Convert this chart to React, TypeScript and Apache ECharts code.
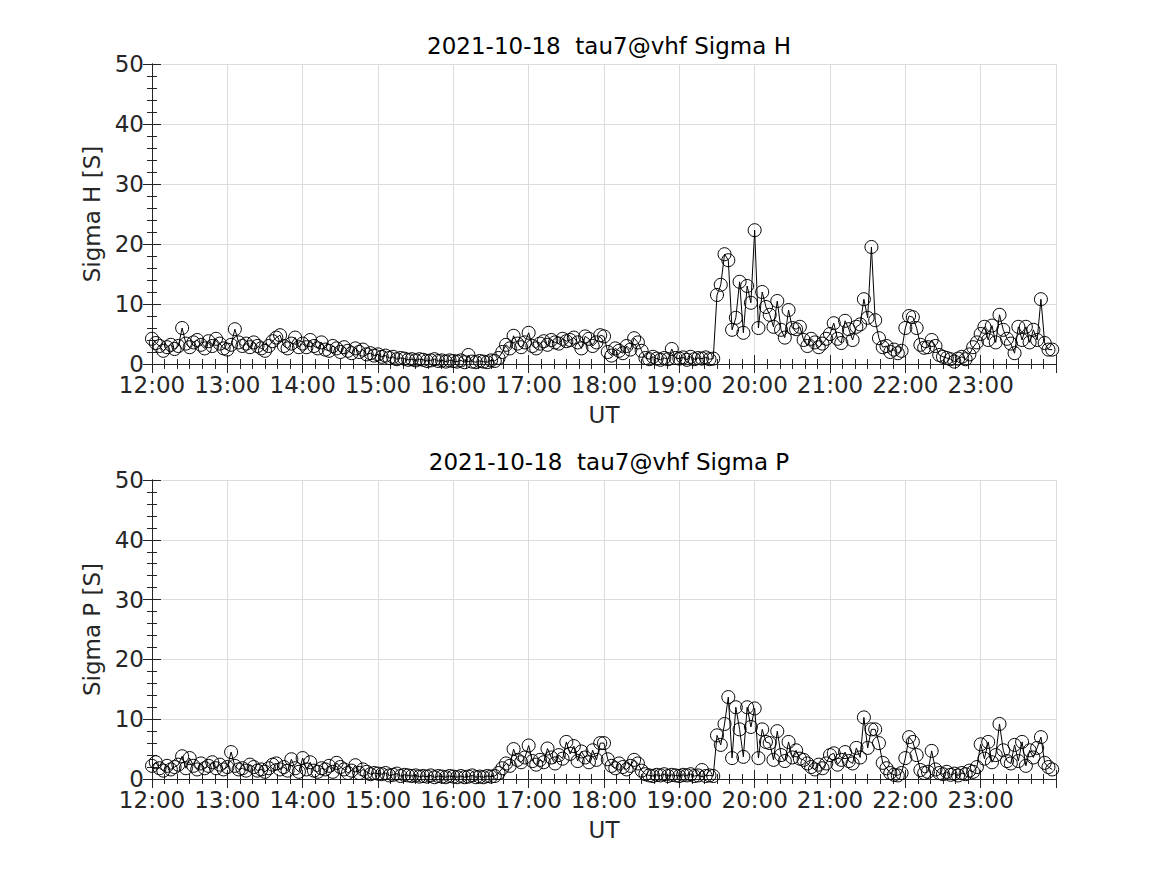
import React, { useEffect, useRef } from "react";
import * as echarts from "echarts";

// Sigma H values, 3-minute samples, one row per hour (12:00 .. 23:57 UT)
const sigmaH12 = [4.2, 3.5, 3.0, 2.2, 2.8, 3.2, 2.5, 3.0, 6.0, 3.4, 2.8, 3.6, 4.0, 3.2, 2.6, 3.8, 3.0, 4.2, 3.4, 2.6];
const sigmaH13 = [2.4, 3.2, 5.8, 3.6, 3.0, 3.4, 2.8, 3.6, 3.0, 2.6, 2.2, 3.0, 3.8, 4.4, 4.8, 3.0, 2.6, 3.4, 4.4, 2.8];
const sigmaH14 = [3.4, 2.8, 4.0, 3.0, 2.6, 3.6, 2.4, 2.2, 3.0, 2.6, 2.0, 2.8, 2.2, 1.8, 2.6, 2.0, 2.4, 1.6, 1.8, 1.4];
const sigmaH15 = [1.6, 1.2, 1.4, 1.0, 1.2, 0.8, 1.0, 0.9, 0.7, 0.8, 0.6, 0.8, 0.7, 0.5, 0.6, 0.8, 0.5, 0.6, 0.4, 0.6];
const sigmaH16 = [0.5, 0.4, 0.6, 0.3, 1.5, 0.4, 0.3, 0.5, 0.4, 0.3, 0.6, 0.5, 1.0, 2.0, 3.2, 2.6, 4.7, 3.4, 2.8, 3.6];
const sigmaH17 = [5.2, 3.0, 2.6, 3.4, 3.8, 3.2, 4.0, 3.6, 3.4, 4.2, 3.8, 4.0, 4.4, 3.6, 2.6, 4.6, 4.2, 3.0, 3.6, 4.8];
const sigmaH18 = [4.6, 2.0, 1.4, 2.6, 2.2, 1.8, 3.0, 2.4, 4.3, 3.6, 2.2, 1.0, 0.8, 1.2, 0.9, 0.7, 1.0, 0.8, 2.5, 1.0];
const sigmaH19 = [0.9, 1.1, 0.7, 1.2, 0.8, 1.0, 0.9, 1.1, 0.8, 0.9, 11.5, 13.2, 18.3, 17.3, 5.7, 7.7, 13.7, 5.2, 13.0, 10.2];
const sigmaH20 = [22.3, 6.0, 12.0, 9.5, 8.2, 6.2, 10.5, 5.7, 4.4, 9.0, 6.0, 5.8, 6.2, 4.0, 3.0, 4.2, 3.6, 2.8, 3.4, 4.2];
const sigmaH21 = [5.0, 6.8, 4.2, 3.5, 7.2, 5.8, 4.0, 6.2, 6.6, 10.8, 7.7, 19.5, 7.3, 4.3, 2.8, 3.0, 2.0, 2.4, 1.8, 2.2];
const sigmaH22 = [6.0, 8.0, 7.8, 6.0, 3.2, 2.7, 2.8, 4.0, 3.0, 1.5, 1.2, 1.0, 0.8, 0.4, 0.9, 1.2, 0.8, 1.6, 2.8, 3.6];
const sigmaH23 = [5.0, 6.2, 4.0, 6.4, 3.6, 8.2, 5.7, 4.2, 3.4, 1.8, 6.2, 4.0, 6.2, 3.6, 5.7, 4.0, 10.8, 3.5, 2.4, 2.4];

// Sigma P values
const sigmaP12 = [2.2, 2.8, 1.8, 1.4, 2.2, 1.6, 2.0, 2.4, 3.8, 1.8, 3.5, 2.2, 1.6, 2.6, 1.8, 2.2, 2.8, 1.8, 2.4, 1.6];
const sigmaP13 = [2.0, 4.5, 2.2, 1.6, 1.8, 1.4, 2.4, 2.0, 1.4, 1.6, 1.2, 1.8, 2.4, 2.6, 1.6, 2.0, 1.4, 3.3, 1.8, 1.2];
const sigmaP14 = [3.5, 1.6, 2.8, 1.4, 1.2, 1.8, 1.6, 2.2, 1.2, 2.7, 2.0, 1.6, 1.0, 1.4, 2.3, 1.0, 1.6, 1.2, 0.8, 1.0];
const sigmaP15 = [0.9, 0.8, 1.0, 0.6, 0.7, 0.9, 0.5, 0.7, 0.6, 0.5, 0.6, 0.4, 0.5, 0.4, 0.6, 0.3, 0.5, 0.4, 0.3, 0.5];
const sigmaP16 = [0.4, 0.3, 0.5, 0.3, 0.4, 0.6, 0.3, 0.4, 0.3, 0.5, 0.4, 0.5, 1.0, 1.8, 2.6, 2.2, 5.0, 3.2, 2.8, 3.6];
const sigmaP17 = [5.6, 3.0, 2.4, 3.2, 2.8, 5.1, 3.6, 2.6, 4.0, 3.4, 6.2, 4.2, 5.5, 3.0, 4.6, 3.6, 2.8, 4.8, 3.2, 6.0];
const sigmaP18 = [6.0, 3.3, 2.2, 1.8, 2.6, 2.0, 1.6, 2.2, 3.2, 2.6, 1.4, 0.8, 0.6, 0.5, 0.7, 0.6, 0.8, 0.5, 0.7, 0.6];
const sigmaP19 = [0.5, 0.7, 0.6, 0.8, 0.5, 0.6, 1.5, 0.5, 0.6, 0.5, 7.3, 5.7, 9.2, 13.7, 3.5, 12.0, 8.3, 3.7, 12.0, 8.7];
const sigmaP20 = [11.8, 3.5, 8.3, 6.2, 6.0, 3.2, 8.0, 4.0, 3.0, 6.2, 3.6, 4.8, 3.4, 3.2, 2.6, 2.0, 1.6, 2.4, 1.8, 2.6];
const sigmaP21 = [4.0, 4.3, 2.4, 3.2, 4.5, 3.0, 2.6, 5.2, 3.6, 10.3, 5.2, 8.3, 8.3, 6.0, 2.7, 1.8, 1.0, 0.7, 0.6, 1.0];
const sigmaP22 = [3.5, 7.0, 6.2, 4.0, 1.5, 1.0, 1.2, 4.7, 1.6, 1.0, 0.8, 1.2, 0.7, 0.9, 0.6, 1.0, 0.8, 1.4, 1.2, 2.0];
const sigmaP23 = [5.8, 3.4, 6.2, 2.8, 4.0, 9.2, 4.8, 3.0, 2.6, 5.7, 3.0, 6.2, 2.2, 4.8, 3.6, 5.2, 7.0, 2.7, 2.0, 1.6];

const sigmaH = [sigmaH12, sigmaH13, sigmaH14, sigmaH15, sigmaH16, sigmaH17, sigmaH18, sigmaH19, sigmaH20, sigmaH21, sigmaH22, sigmaH23].flat();
const sigmaP = [sigmaP12, sigmaP13, sigmaP14, sigmaP15, sigmaP16, sigmaP17, sigmaP18, sigmaP19, sigmaP20, sigmaP21, sigmaP22, sigmaP23].flat();
const sampleMinutes = 3; // sampling step in minutes after 12:00 UT
const hourLabels = ["12:00", "13:00", "14:00", "15:00", "16:00", "17:00", "18:00", "19:00", "20:00", "21:00", "22:00", "23:00"];
const titles = ["2021-10-18  tau7@vhf Sigma H", "2021-10-18  tau7@vhf Sigma P"];
const yNames = ["Sigma H [S]", "Sigma P [S]"];

const FONT = "DejaVu Sans";
const FS = 23;
const AX = "#262626";

export default function App() {
  const ref = useRef<HTMLDivElement>(null);
  useEffect(() => {
    if (!ref.current) return;
    const chart = echarts.init(ref.current, null, { renderer: "svg" });
    const grids = [
      { left: 152, top: 64, width: 904, height: 300 },
      { left: 152, top: 480, width: 904, height: 299 },
    ];
    const tick = { show: true, inside: true, length: 9, lineStyle: { color: AX, width: 1 } };
    const minorX = { show: true, splitNumber: 6, length: 5, lineStyle: { color: AX, width: 1 } };
    const minorY = { show: true, splitNumber: 5, length: 5, lineStyle: { color: AX, width: 1 } };
    const xAxes: any[] = [];
    const yAxes: any[] = [];
    grids.forEach((_, g) => {
      xAxes.push({
        type: "value", gridIndex: g, position: "bottom", min: 0, max: 720, interval: 60,
        axisLine: { show: true, lineStyle: { color: AX, width: 1 } },
        axisTick: tick, minorTick: minorX,
        splitLine: { show: true, lineStyle: { color: "#dcdcdc", width: 1 } },
        axisLabel: {
          show: true, margin: 9, color: AX, fontFamily: FONT, fontSize: FS,
          formatter: (v: number) => hourLabels[Math.round(v / 60)] ?? "",
        },
        name: "UT", nameLocation: "middle", nameGap: 39,
        nameTextStyle: { color: AX, fontFamily: FONT, fontSize: FS },
      });
      xAxes.push({
        type: "value", gridIndex: g, position: "top", min: 0, max: 720, interval: 60,
        axisLine: { show: true, lineStyle: { color: AX, width: 1 } },
        axisTick: tick, minorTick: minorX, splitLine: { show: false }, axisLabel: { show: false },
      });
      yAxes.push({
        type: "value", gridIndex: g, position: "left", min: 0, max: 50, interval: 10,
        axisLine: { show: true, lineStyle: { color: AX, width: 1 } },
        axisTick: tick, minorTick: minorY,
        splitLine: { show: true, lineStyle: { color: "#dcdcdc", width: 1 } },
        axisLabel: { show: true, margin: 8, color: AX, fontFamily: FONT, fontSize: FS },
        name: yNames[g], nameLocation: "middle", nameGap: 44,
        nameTextStyle: { color: AX, fontFamily: FONT, fontSize: FS },
      });
      yAxes.push({
        type: "value", gridIndex: g, position: "right", min: 0, max: 50, interval: 10,
        axisLine: { show: true, lineStyle: { color: AX, width: 1 } },
        axisTick: tick, minorTick: minorY, splitLine: { show: false }, axisLabel: { show: false },
      });
    });
    const mk = (vals: number[], g: number) => ({
      type: "line",
      xAxisIndex: g * 2, yAxisIndex: g * 2,
      data: vals.map((v, i) => [i * sampleMinutes, v]),
      symbol: "circle", symbolSize: 13, showAllSymbol: true,
      itemStyle: { color: "rgba(0,0,0,0)", borderColor: "#000", borderWidth: 1 },
      lineStyle: { color: "#000", width: 1 },
      emphasis: { disabled: true },
    });
    chart.setOption({
      animation: false,
      backgroundColor: "#fff",
      title: [
        { text: titles[0], left: 604, top: 29, textAlign: "center", textStyle: { fontFamily: FONT, fontSize: FS, fontWeight: "normal", color: "#000" } },
        { text: titles[1], left: 604, top: 445, textAlign: "center", textStyle: { fontFamily: FONT, fontSize: FS, fontWeight: "normal", color: "#000" } },
      ],
      grid: grids,
      xAxis: xAxes,
      yAxis: yAxes,
      series: [mk(sigmaH, 0), mk(sigmaP, 1)],
    });
    return () => chart.dispose();
  }, []);
  return <div ref={ref} style={{ position: "fixed", left: 0, top: 0, width: 1167, height: 875, background: "#fff" }} />;
}
